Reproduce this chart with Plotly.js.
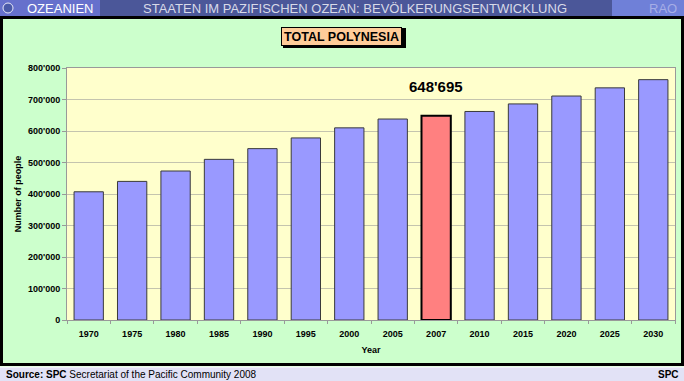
<!DOCTYPE html>
<html>
<head>
<meta charset="utf-8">
<script src="https://cdn.plot.ly/plotly-3.0.1.min.js"></script>
<style>html,body{margin:0;padding:0;background:#CCFFCC;}#chart{width:684px;height:381px;}</style>
</head>
<body>
<div id="chart"></div>
<script>
// ---- data ----
var years = ['1970','1975','1980','1985','1990','1995','2000','2005','2007','2010','2015','2020','2025','2030'];
var population = [407000, 440000, 473000, 510000, 544000, 578000, 610000, 638000, 648695, 662000, 686000, 711000, 737000, 763000];
var highlightYear = '2007';
var chartTitle = 'TOTAL POLYNESIA';
var bannerLeft = 'OZEANIEN';
var bannerMid = 'STAATEN IM PAZIFISCHEN OZEAN: BEVÖLKERUNGSENTWICKLUNG';
var bannerRight = 'RAO';
var sourceBold = 'Source: SPC';
var sourceText = ' Secretariat of the Pacific Community 2008';
var sourceRight = 'SPC';
var yTitle = 'Number of people';
var xTitle = 'Year';

// ---- layout helpers (pixel -> paper) ----
var W = 684, H = 381;
var L = 67, R = 9, T = 68, B = 61;
var PW = W - L - R, PH = H - T - B;
function px(x){ return (x - L) / PW; }
function py(y){ return (H - B - y) / PH; }

var hiIdx = years.indexOf(highlightYear);
var colors = years.map(function(y){ return y === highlightYear ? '#FF8080' : '#9999FF'; });
var lcolors = years.map(function(y){ return y === highlightYear ? '#000000' : '#3a3a3a'; });
var lwidths = years.map(function(y){ return y === highlightYear ? 2 : 1; });

function fmt(v){ return String(Math.round(v)).replace(/\B(?=(\d{3})+(?!\d))/g, "'"); }

var trace = {
  type: 'bar',
  x: years,
  y: population,
  marker: { color: colors, line: { color: lcolors, width: lwidths } },
  hoverinfo: 'x+y'
};

var F = 'Arial, "Liberation Sans", sans-serif';

var shapes = [
  // top banner
  {type:'rect', xref:'paper', yref:'paper', x0:px(0), x1:px(684), y0:py(16.5), y1:py(0), fillcolor:'#4B5799', line:{width:0}, layer:'above'},
  {type:'rect', xref:'paper', yref:'paper', x0:px(0), x1:px(100), y0:py(16.5), y1:py(0), fillcolor:'#6670CC', line:{width:0}, layer:'above'},
  {type:'rect', xref:'paper', yref:'paper', x0:px(612), x1:px(684), y0:py(16.5), y1:py(0), fillcolor:'#6F80D8', line:{width:0}, layer:'above'},
  // globe icon
  {type:'circle', xref:'paper', yref:'paper', x0:px(3), x1:px(13), y0:py(13), y1:py(3), fillcolor:'#4a5aa8', line:{color:'#e8e8f8', width:1}, layer:'above'},
  // bottom band
  {type:'rect', xref:'paper', yref:'paper', x0:px(0), x1:px(684), y0:py(381), y1:py(367), fillcolor:'#E2E2F6', line:{width:0}, layer:'above'},
  {type:'line', xref:'paper', yref:'paper', x0:px(0), x1:px(684), y0:py(367), y1:py(367), line:{color:'#ffffff', width:1}, layer:'above'},
  // black frame
  {type:'rect', xref:'paper', yref:'paper', x0:px(1.5), x1:px(682.5), y0:py(364.5), y1:py(17.5), line:{color:'#000000', width:3}, layer:'above'},
  // title box shadow
  {type:'rect', xref:'paper', yref:'paper', x0:px(283), x1:px(406), y0:py(48), y1:py(28), fillcolor:'#000000', line:{width:0}, layer:'below'}
];

var annotations = [
  {xref:'paper', yref:'paper', x:px(25), y:py(8.5), xanchor:'left', yanchor:'middle', showarrow:false, text:bannerLeft, font:{family:F, size:13, color:'#ffffff'}},
  {xref:'paper', yref:'paper', x:px(355), y:py(8.5), xanchor:'center', yanchor:'middle', showarrow:false, text:bannerMid, font:{family:F, size:13, color:'#D8DAE8'}},
  {xref:'paper', yref:'paper', x:px(679), y:py(8.5), xanchor:'right', yanchor:'middle', showarrow:false, text:bannerRight, font:{family:F, size:13, color:'#A6AEE6'}},
  {xref:'paper', yref:'paper', x:px(341.5), y:py(36), xanchor:'center', yanchor:'middle', showarrow:false, text:'<b>'+chartTitle+'</b>', font:{family:F, size:12.5, color:'#000000'}, bgcolor:'#FFCC99', bordercolor:'#000000', borderwidth:1, borderpad:0, width:119, height:17},
  {xref:'x', yref:'paper', x:hiIdx, y:py(86), xanchor:'center', yanchor:'middle', showarrow:false, text:'<b>'+fmt(population[hiIdx])+'</b>', font:{family:F, size:15, color:'#000000'}},
  {xref:'paper', yref:'paper', x:px(4), y:py(374.5), xanchor:'left', yanchor:'middle', showarrow:false, text:'<b>'+sourceBold+'</b>'+sourceText, font:{family:F, size:10, color:'#000000'}},
  {xref:'paper', yref:'paper', x:px(681), y:py(374.5), xanchor:'right', yanchor:'middle', showarrow:false, text:'<b>'+sourceRight+'</b>', font:{family:F, size:10, color:'#000000'}}
];

var layout = {
  width: W, height: H,
  margin: {l:L, r:R, t:T, b:B, pad:0},
  paper_bgcolor: '#CCFFCC',
  plot_bgcolor: '#FFFFCC',
  separators: ".'",
  showlegend: false,
  bargap: 0.325,
  font: {family: F, color:'#000000'},
  xaxis: {
    type:'category',
    range:[-0.5, years.length - 0.5],
    autorange:false,
    tickson:'boundaries',
    ticks:'outside', ticklen:3, tickcolor:'#999999',
    ticklabelstandoff:5,
    showline:true, linecolor:'#999999', linewidth:1, mirror:true,
    showgrid:false,
    tickangle:0,
    tickfont:{family:F, size:9, color:'#000000', weight:'bold'},
    title:{text:'<b>'+xTitle+'</b>', font:{family:F, size:9, color:'#000000'}, standoff:8},
    automargin:false
  },
  yaxis: {
    range:[0, 800000],
    autorange:false,
    dtick:100000,
    tickformat:',d',
    ticks:'outside', ticklen:4, tickcolor:'#999999',
    showline:true, linecolor:'#999999', linewidth:1, mirror:true,
    showgrid:true, gridcolor:'#C4C4AE', gridwidth:1,
    zeroline:false,
    tickfont:{family:F, size:9, color:'#000000', weight:'bold'},
    title:{text:'<b>'+yTitle+'</b>', font:{family:F, size:9, color:'#000000'}, standoff:4},
    automargin:false
  },
  shapes: shapes,
  annotations: annotations
};

Plotly.newPlot('chart', [trace], layout, {displayModeBar:false, staticPlot:true});
</script>
</body>
</html>
